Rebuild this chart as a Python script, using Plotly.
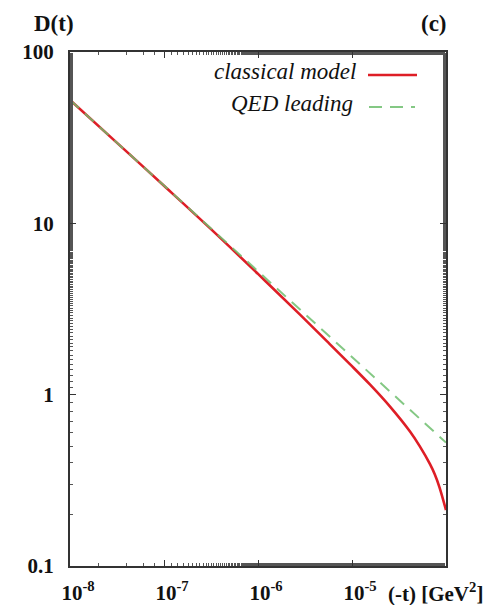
import plotly.graph_objects as go

# momentum transfer (-t) in GeV^2
t_qed = [1e-8, 3e-8, 1e-7, 3e-7, 1e-6, 3e-6, 1e-5, 3e-5, 1e-4]
d_qed = [52.5, 30.3, 16.6, 9.58, 5.25, 3.03, 1.66, 0.958, 0.525]

t_classical = [1e-8, 3e-8, 1e-7, 3.16e-7, 1e-6, 2.8e-6, 5.8e-6, 9.5e-6, 1.55e-5,
               2.54e-5, 4.14e-5, 5.25e-5, 6.76e-5, 7.59e-5, 8.51e-5, 1e-4]
d_classical = [52.5, 30.3, 16.57, 9.25, 5.066, 2.934, 1.973, 1.507, 1.147,
               0.851, 0.609, 0.5006, 0.393, 0.343, 0.289, 0.212]

x_tickvals = [1e-8, 1e-7, 1e-6, 1e-5]
x_ticktext = ["<b>10<sup>-8</sup></b>", "<b>10<sup>-7</sup></b>",
              "<b>10<sup>-6</sup></b>", "<b>10<sup>-5</sup></b>"]
y_tickvals = [0.1, 1, 10, 100]
y_ticktext = ["<b>0.1</b>", "<b>1</b>", "<b>10</b>", "<b>100</b>"]

RED = "rgb(222,30,38)"
GREEN = "rgba(110,190,110,0.85)"
SERIF = "Liberation Serif, Times New Roman, DejaVu Serif, serif"

fig = go.Figure()
fig.add_trace(go.Scatter(x=t_classical, y=d_classical, mode="lines", name="classical model",
                         line=dict(color=RED, width=2.6, shape="spline", smoothing=1)))
fig.add_trace(go.Scatter(x=t_qed, y=d_qed, mode="lines", name="QED leading",
                         line=dict(color=GREEN, width=2, dash="12px,8px")))
# carrier for the mirrored top/right axes
fig.add_trace(go.Scatter(x=t_qed, y=d_qed, mode="lines", xaxis="x2", yaxis="y2",
                         line=dict(color="rgba(0,0,0,0)"), hoverinfo="skip",
                         showlegend=False))

axis_common = dict(
    type="log", showgrid=False, zeroline=False, automargin=False,
    showline=True, linecolor="#333", linewidth=2,
    ticks="inside", ticklen=6, tickwidth=1.2, tickcolor="#333",
    minor=dict(ticks="inside", ticklen=3, tickwidth=1, tickcolor="#555"),
    tickfont=dict(family=SERIF, size=21, color="#111"),
)

fig.update_layout(
    xaxis=dict(range=[-8, -4], tickvals=x_tickvals, ticktext=x_ticktext,
               ticklabelstandoff=7, ticklabelshift=8, **axis_common),
    yaxis=dict(range=[-1, 2], tickvals=y_tickvals, ticktext=y_ticktext,
               ticklabelstandoff=10, **axis_common),
    xaxis2=dict(range=[-8, -4], tickvals=x_tickvals, overlaying="x", side="top",
                showticklabels=False, **axis_common),
    yaxis2=dict(range=[-1, 2], tickvals=y_tickvals, overlaying="y", side="right",
                showticklabels=False, **axis_common),
)

def px_x(p):
    return (p - 70) / 376

def px_y(p):
    return (566 - p) / 514

annotations = [
    dict(text="<b>D(t)</b>", x=px_x(54), y=px_y(24), size=23),
    dict(text="<b>(c)</b>", x=px_x(434), y=px_y(24), size=23),
    dict(text="<b>(-t) [GeV<sup>2</sup>]</b>", x=px_x(386), y=px_y(592), xanchor="left", size=21),
    dict(text="<i>classical model</i>", x=px_x(358), y=px_y(72), xanchor="right", size=23),
    dict(text="<i>QED leading</i>", x=px_x(355), y=px_y(104), xanchor="right", size=23),
]
for a in annotations:
    a.setdefault("xanchor", "center")
    size = a.pop("size")
    fig.add_annotation(xref="paper", yref="paper", showarrow=False, yanchor="middle",
                       font=dict(family=SERIF, size=size, color="#111"), **a)

# legend keys drawn to the right of their labels
fig.add_shape(type="line", xref="paper", yref="paper",
              x0=px_x(368), x1=px_x(417), y0=px_y(75), y1=px_y(75),
              line=dict(color=RED, width=2.6))
fig.add_shape(type="line", xref="paper", yref="paper",
              x0=px_x(369), x1=px_x(415), y0=px_y(107), y1=px_y(107),
              line=dict(color=GREEN, width=2, dash="13px,8px"))

fig.update_layout(
    width=499, height=605,
    margin=dict(l=70, r=53, t=52, b=39),
    paper_bgcolor="white", plot_bgcolor="white",
    showlegend=False,
)

fig.write_html("out.html")
